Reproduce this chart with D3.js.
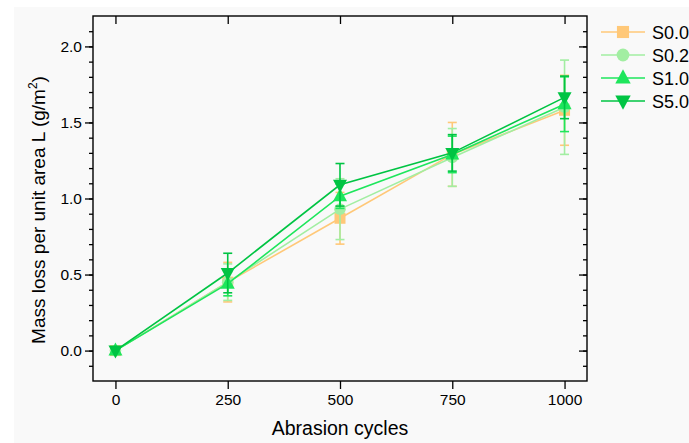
<!DOCTYPE html>
<html><head><meta charset="utf-8">
<script src="https://cdn.jsdelivr.net/npm/d3@7"></script>
<style>body{margin:0;background:#fff;}svg{display:block;}</style>
</head><body>
<svg id="c" width="689" height="443"></svg>
<script>
const cycles = [0, 250, 500, 750, 1000];
const seriesNames = ["S0.0", "S0.2", "S1.0", "S5.0"];
const valS00 = [0, 0.45, 0.87, 1.29, 1.58];
const valS02 = [0, 0.45, 0.93, 1.27, 1.60];
const valS10 = [0, 0.44, 1.015, 1.29, 1.62];
const valS50 = [0, 0.51, 1.09, 1.30, 1.665];
const errS00 = [0, 0.13, 0.17, 0.21, 0.23];
const errS02 = [0, 0.12, 0.20, 0.19, 0.31];
const errS10 = [0, 0.08, 0.08, 0.12, 0.18];
const errS50 = [0, 0.13, 0.14, 0.12, 0.14];
const xTicks = [0, 250, 500, 750, 1000];
const yTicks = [0.0, 0.5, 1.0, 1.5, 2.0];
const colors = ["#FFC878", "#A2EEA2", "#1EE65C", "#00C443"];
const shapes = ["square", "circle", "up", "down"];

const series = seriesNames.map((n, i) => ({
  name: n, color: colors[i], shape: shapes[i],
  vals: [valS00, valS02, valS10, valS50][i],
  errs: [errS00, errS02, errS10, errS50][i]
}));

const svg = d3.select("#c");
svg.append("rect").attr("x", 14).attr("y", 7).attr("width", 689).attr("height", 443).attr("fill", "#F9F9F9");

const L = 93, R = 587, T = 16, B = 381;
const x = d3.scaleLinear().domain([-50, 1050]).range([L, R]);
const y = d3.scaleLinear().domain([-0.2, 2.2]).range([B, T]);
const font = "'Liberation Sans', Arial, sans-serif";

// axes
const minorY = d3.range(-0.1, 2.15, 0.1).map(v => +v.toFixed(2));
const gl = svg.append("g").attr("transform", `translate(${L},0)`)
  .call(d3.axisLeft(y).tickValues(minorY).tickSize(4).tickFormat(""));
const gl2 = svg.append("g").attr("transform", `translate(${L},0)`)
  .call(d3.axisLeft(y).tickValues(yTicks).tickSize(8).tickPadding(3).tickFormat(d3.format(".1f")));
const gr = svg.append("g").attr("transform", `translate(${R},0)`)
  .call(d3.axisLeft(y).tickValues(minorY).tickSize(4).tickFormat(""));
const gr2 = svg.append("g").attr("transform", `translate(${R},0)`)
  .call(d3.axisLeft(y).tickValues(yTicks).tickSize(8).tickFormat(""));
const gb = svg.append("g").attr("transform", `translate(0,${B})`)
  .call(d3.axisBottom(x).tickValues(xTicks).tickSize(8).tickPadding(5).tickFormat(d3.format("d")));
const gt = svg.append("g").attr("transform", `translate(0,${T})`)
  .call(d3.axisBottom(x).tickValues(xTicks).tickSize(8).tickFormat(""));
[gl, gl2, gr, gr2, gb, gt].forEach(g => {
  g.select(".domain").remove();
  g.selectAll("line").attr("stroke", "#000").attr("stroke-width", 1.3);
  g.selectAll("text").attr("font-family", font).attr("font-size", 15.5).attr("fill", "#000");
});
svg.append("rect").attr("x", L).attr("y", T).attr("width", R - L).attr("height", B - T)
  .attr("fill", "none").attr("stroke", "#000").attr("stroke-width", 1.4);

// titles
svg.append("text").attr("x", 340).attr("y", 435).attr("text-anchor", "middle")
  .attr("font-family", font).attr("font-size", 19.5).text("Abrasion cycles");
const yt = svg.append("text").attr("transform", "translate(45,210) rotate(-90)").attr("text-anchor", "middle")
  .attr("font-family", font).attr("font-size", 19);
yt.append("tspan").text("Mass loss per unit area L (g/m");
yt.append("tspan").attr("font-size", 12).attr("dy", -8).text("2");
yt.append("tspan").attr("dy", 8).text(")");

function marker(g, shape, cx, cy, color, k) {
  k = k || 1;
  if (shape === "square") g.append("rect").attr("x", cx - 5.5 * k).attr("y", cy - 5.5 * k).attr("width", 11 * k).attr("height", 11 * k).attr("fill", color);
  else if (shape === "circle") g.append("circle").attr("cx", cx).attr("cy", cy).attr("r", 5.8 * k).attr("fill", color);
  else if (shape === "up") g.append("path").attr("d", `M${cx},${cy - 8 * k}L${cx + 7 * k},${cy + 5 * k}L${cx - 7 * k},${cy + 5 * k}Z`).attr("fill", color);
  else g.append("path").attr("d", `M${cx},${cy + 8 * k}L${cx + 7 * k},${cy - 5 * k}L${cx - 7 * k},${cy - 5 * k}Z`).attr("fill", color);
}

const line = d3.line().x((d, i) => x(cycles[i])).y(d => y(d));
series.forEach(s => {
  const g = svg.append("g");
  g.append("path").attr("d", line(s.vals)).attr("fill", "none").attr("stroke", s.color).attr("stroke-width", 1.6);
  s.vals.forEach((v, i) => {
    const e = s.errs[i];
    if (e > 0) {
      const cx = x(cycles[i]);
      g.append("line").attr("x1", cx).attr("x2", cx).attr("y1", y(v - e)).attr("y2", y(v + e)).attr("stroke", s.color).attr("stroke-width", 1.6);
      [v - e, v + e].forEach(w => g.append("line").attr("x1", cx - 4.5).attr("x2", cx + 4.5).attr("y1", y(w)).attr("y2", y(w)).attr("stroke", s.color).attr("stroke-width", 1.6));
    }
    marker(g, s.shape, x(cycles[i]), y(v), s.color);
  });
});

// legend
const legY = [32, 55, 78, 101];
series.forEach((s, i) => {
  const g = svg.append("g");
  g.append("line").attr("x1", 601).attr("x2", 645).attr("y1", legY[i]).attr("y2", legY[i]).attr("stroke", s.color).attr("stroke-width", 1.6);
  marker(g, s.shape, 623, legY[i], s.color, 1.1);
  g.append("text").attr("x", 652).attr("y", legY[i] + 6.5).attr("font-family", font).attr("font-size", 18).text(s.name);
});
</script>
</body></html>
